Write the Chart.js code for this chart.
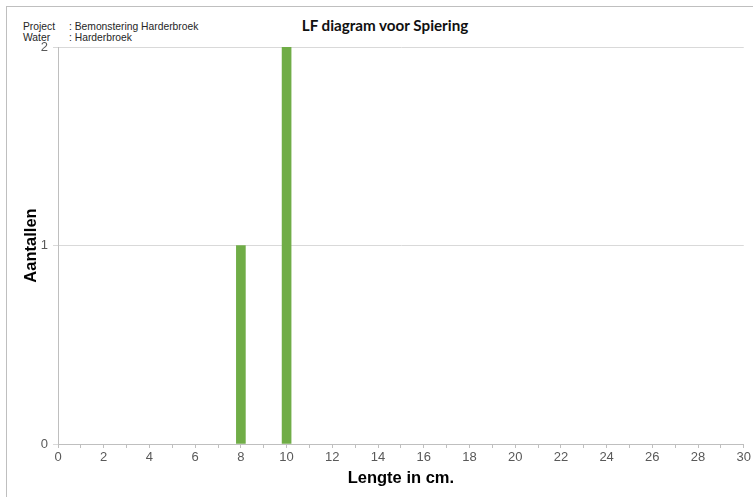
<!DOCTYPE html>
<html>
<head>
<meta charset="utf-8">
<script src="https://cdn.jsdelivr.net/npm/chart.js@4/dist/chart.umd.min.js"></script>
<style>
    html, body { margin: 0; padding: 0; background: #fff; }
    #wrap { position: relative; width: 753px; height: 497px; overflow: hidden; font-family: "Liberation Sans", Arial, sans-serif; }
    #frame { position: absolute; left: 6px; top: 6px; width: 760px; height: 500px; border-top: 1px solid #bfbfbf; border-left: 1px solid #bfbfbf; }
    .meta { position: absolute; font-size: 10.3px; color: #262626; white-space: nowrap; }
    #title { position: absolute; left: 285px; width: 200px; top: 16px; text-align: center; font-family: Lato, "Open Sans", sans-serif; font-weight: bold; font-size: 15.2px; color: #111; }
    canvas { position: absolute; left: 0; top: 0; }
</style>
</head>
<body>
<div id="wrap">
    <div id="frame"></div>
    <div class="meta" style="left:23px; top:21px">Project</div>
    <div class="meta" style="left:69px; top:21px">: Bemonstering Harderbroek</div>
    <div class="meta" style="left:23px; top:32px">Water</div>
    <div class="meta" style="left:69px; top:32px">: Harderbroek</div>
    <div id="title">LF diagram voor Spiering</div>
    <canvas id="chart" width="753" height="497"></canvas>
</div>
<script>
// LF data: lengte (cm) en aantallen
const lengtes = [8, 10];
const aantallen = [1, 2];
const xMin = 0, xMax = 30;
const yTicks = [0, 1, 2];

const punten = lengtes.map((l, i) => ({ x: l, y: aantallen[i] }));

new Chart(document.getElementById('chart'), {
    type: 'bar',
    data: {
        datasets: [{ label: 'Aantallen', data: punten, backgroundColor: '#70ad47', barThickness: 9 }]
    },
    options: {
        responsive: false,
        animation: false,
        layout: { padding: { top: 47, right: 9, left: 0, bottom: 0 } },
        plugins: { legend: { display: false }, tooltip: { enabled: false } },
        scales: {
            x: {
                type: 'linear',
                min: xMin, max: xMax,
                offset: false,
                afterFit: s => { s.height = 53; },
                grid: { offset: false, drawOnChartArea: false, drawTicks: true, tickLength: 4, color: '#bfbfbf' },
                border: { color: '#bfbfbf' },
                ticks: {
                    stepSize: 1, autoSkip: false, maxRotation: 0, padding: 2,
                    color: '#595959', font: { family: 'Liberation Sans', size: 13 },
                    callback: v => (v % 2 === 0 ? String(v) : '')
                },
                title: { display: true, text: 'Lengte in cm.', color: '#000', font: { family: 'Liberation Sans', size: 16.5, weight: 'bold' }, padding: { top: 0, bottom: 9 } }
            },
            y: {
                min: yTicks[0], max: yTicks[yTicks.length - 1],
                afterFit: s => { s.width = 58; },
                afterBuildTicks: s => { s.ticks = yTicks.map(v => ({ value: v })); },
                grid: { color: '#d9d9d9', tickLength: 5 },
                border: { color: '#bfbfbf' },
                ticks: { padding: 5, color: '#595959', font: { family: 'Liberation Sans', size: 13 } },
                title: { display: true, text: 'Aantallen', color: '#000', font: { family: 'Liberation Sans', size: 16.5, weight: 'bold' }, padding: { top: 22, bottom: 0 } }
            }
        }
    }
});
</script>
</body>
</html>
